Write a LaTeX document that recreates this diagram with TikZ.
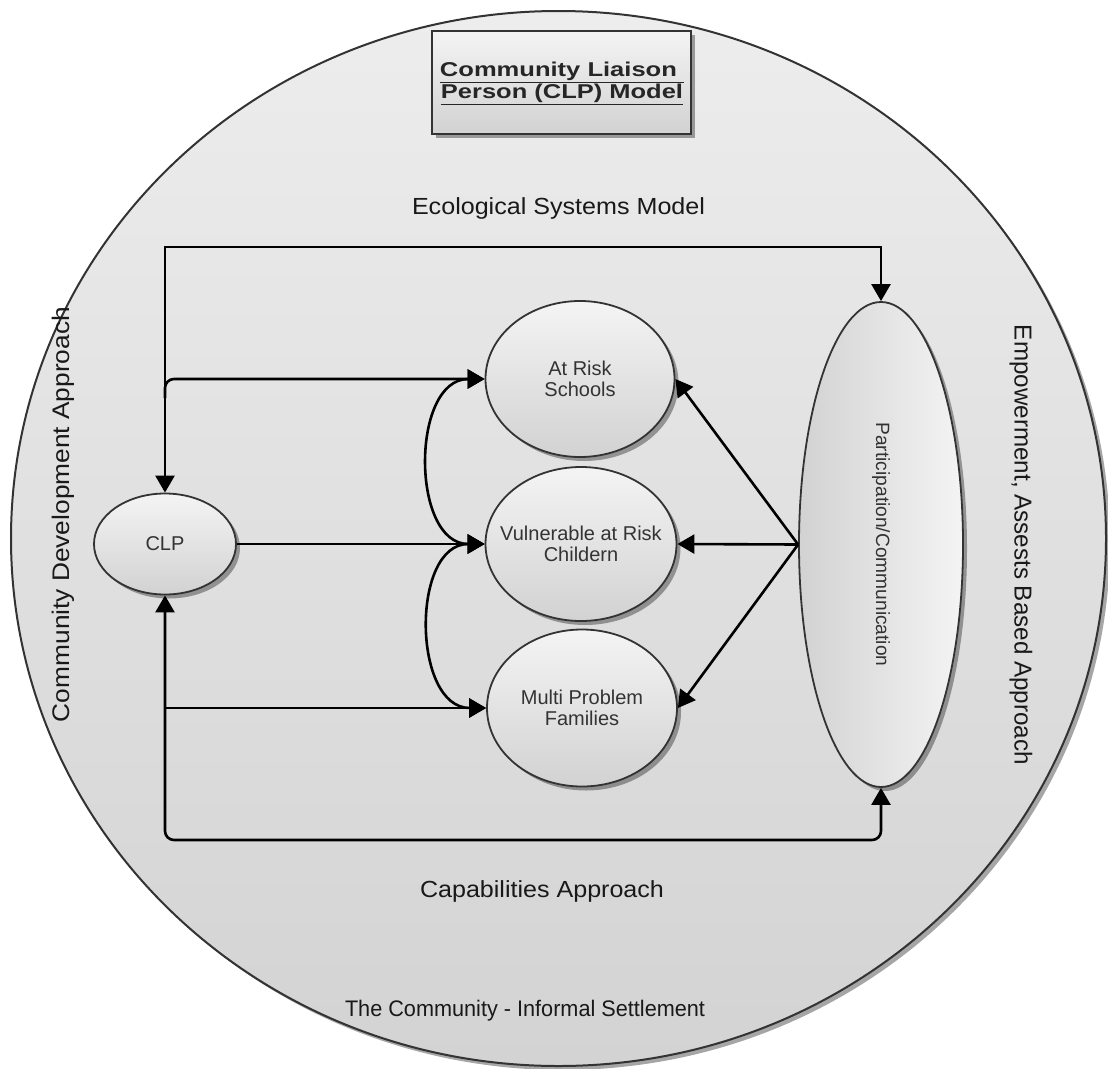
\documentclass[tikz,border=0pt]{standalone}
\usepackage{fontspec}
\setmainfont{Liberation Sans}
\usepackage{graphicx}
\usetikzlibrary{shapes.geometric, arrows.meta, shadows, calc}
\definecolor{edge}{HTML}{333333}
\definecolor{bgtop}{HTML}{EDEDED}
\definecolor{bgbot}{HTML}{D3D3D3}
\definecolor{bubtop}{HTML}{F4F4F4}
\definecolor{bubbot}{HTML}{D2D2D2}
\tikzset{
  bigtip/.tip={Triangle[length=17pt,width=19pt]},
  softshadow/.style={drop shadow={shadow xshift=4pt, shadow yshift=-4pt, fill=black, opacity=0.35}},
  bubble/.style={ellipse, draw=edge, line width=1.8pt, inner sep=0pt,
    top color=bubtop, bottom color=bubbot, softshadow},
  btxt/.style={inner sep=0pt, align=center, font=\fontsize{20}{21.5}\selectfont, text=black!80},
  lbl/.style={inner sep=0pt, text=black!90},
  conn/.style={line width=2.6pt, black},
}
\begin{document}
\begin{tikzpicture}[x=1pt,y=-1pt]
\useasboundingbox (0,0) rectangle (1108,1068);
\fill[white] (0,0) rectangle (1108,1068);
% outer community ellipse
\node[ellipse, draw=edge, line width=2pt, inner sep=0pt, minimum width=1095pt, minimum height=1055pt,
  top color=bgtop, bottom color=bgbot, softshadow] (comm) at (558.5,538.5) {};
% title box
\node[draw=edge, line width=2pt, minimum width=259pt, minimum height=103pt,
  top color=bubtop, bottom color=bubbot, softshadow] (tbox) at (561.5,82) {};
\node[inner sep=0pt, align=center, font=\fontsize{20}{22}\selectfont\bfseries, text=black!85] (ttext) at (562,83)
  {\resizebox{244pt}{\height}{\underline{Community Liaison~}}\\\resizebox{242pt}{\height}{\underline{Person (CLP) Model}}};
% outer labels
\node[lbl, anchor=base, font=\fontsize{23.3}{28}\selectfont] (eco) at (558.5,214.5)
  {\resizebox{293pt}{\height}{Ecological Systems Model}};
\node[lbl, anchor=base, font=\fontsize{23.3}{28}\selectfont] (cap) at (542,897)
  {\resizebox{244pt}{\height}{Capabilities Approach}};
\node[lbl, anchor=base, font=\fontsize{22.5}{28}\selectfont] (settle) at (525,1016.5)
  {\resizebox{360pt}{\height}{The Community - Informal Settlement}};
\node[lbl, rotate=90, font=\fontsize{24}{28}\selectfont] (cda) at (63,514.5)
  {\resizebox{415pt}{\height}{Community Development Approach}};
\node[lbl, rotate=-90, font=\fontsize{24.5}{28}\selectfont] (emp) at (1021,545)
  {\resizebox{440pt}{\height}{Empowerment, Assests Based Approach}};
% bubbles
\node[bubble, minimum width=142pt, minimum height=101pt] (clp) at (165,544) {};
\node[bubble, minimum width=189pt, minimum height=156pt] (ars) at (580,379) {};
\node[bubble, minimum width=191pt, minimum height=154pt] (vul) at (581,544) {};
\node[bubble, minimum width=190pt, minimum height=157pt] (mpf) at (582,708) {};
\node[ellipse, draw=edge, line width=1.8pt, inner sep=0pt, minimum width=164pt, minimum height=485pt,
  left color=bubbot, right color=bubtop, softshadow] (part) at (881,544.5) {};
% bubble texts
\node[btxt] (clpt) at (clp) {CLP};
\node[btxt] (arst) at (ars) {At Risk\\Schools};
\node[btxt] (vult) at (vul) {Vulnerable at Risk\\Childern};
\node[btxt] (mpft) at (mpf) {Multi Problem\\Families};
\node[btxt, rotate=-90, font=\fontsize{19.2}{22}\selectfont] (partt) at (part)
  {\resizebox{244pt}{\height}{Participation/Communication}};
% helper coordinates
\coordinate (topy) at (0,247);
\coordinate (boty) at (0,840);
\coordinate (jy) at (0,398);
% connectors
\draw[conn, bigtip-bigtip] (clp.north) -- (clp.north |- topy) -| (part.north);
\draw[conn, bigtip-bigtip, rounded corners=9pt] (clp.south) -- (clp.south |- boty) -| (part.south);
\draw[conn, -bigtip, rounded corners=9pt] (clp.north |- jy) |- (ars.west);
\draw[conn, -bigtip] (clp.south |- mpf.west) -- (mpf.west);
\draw[conn, -bigtip] (clp.east) -- (vul.west);
\draw[conn, bigtip-bigtip] (ars.west) .. controls ($(ars.west)+(-74,0)$) and ($(vul.west)+(-74,0)$) .. (vul.west);
\draw[conn, bigtip-bigtip] (vul.west) .. controls ($(vul.west)+(-74,0)$) and ($(mpf.west)+(-74,0)$) .. (mpf.west);
\draw[conn, -bigtip] (part.west) -- (ars.east);
\draw[conn, -bigtip] (part.west) -- (vul.east);
\draw[conn, -bigtip] (part.west) -- (mpf.east);
\end{tikzpicture}
\end{document}
